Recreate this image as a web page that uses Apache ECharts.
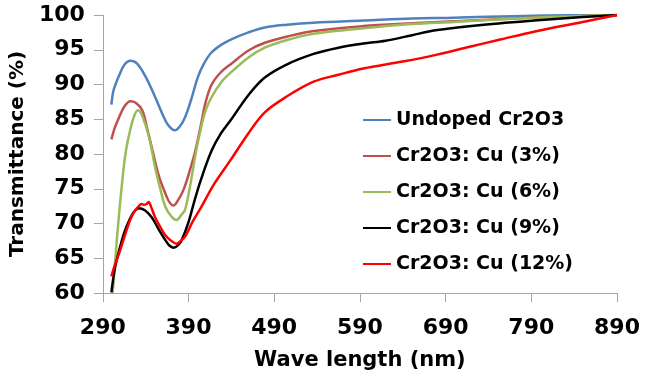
<!DOCTYPE html>
<html>
<head>
<meta charset="utf-8">
<script src="https://cdn.jsdelivr.net/npm/echarts@6/dist/echarts.min.js"></script>
<style>
    html, body { margin: 0; padding: 0; background: #fff; }
    #chart { width: 652px; height: 379px; }
</style>
</head>
<body>
<div id="chart"></div>
<script>
// wavelength (nm), transmittance (%)
var seriesNames = ['Undoped Cr2O3', 'Cr2O3: Cu (3%)', 'Cr2O3: Cu (6%)', 'Cr2O3: Cu (9%)', 'Cr2O3: Cu (12%)'];
var seriesColors = ['#4f81bd', '#c0504d', '#9bbb59', '#000000', '#ff0000'];

var undoped = [
    [300, 87.1], [302, 88.9], [305, 90.1], [309, 91.3], [315, 92.8], [322, 93.4], [330, 93.0],
    [340, 91.1], [350, 88.5], [359, 85.9], [366, 84.2], [374, 83.4], [380, 84.0], [386, 85.3],
    [393, 87.8], [401, 91.1], [408, 93.0], [416, 94.5], [428, 95.7], [440, 96.5], [460, 97.5],
    [479, 98.2], [505, 98.6], [536, 98.9], [594, 99.2], [651, 99.5], [700, 99.6], [790, 99.9], [890, 100]
];
var cu3 = [
    [300, 82.1], [304, 83.8], [309, 85.3], [315, 86.8], [322, 87.6], [328, 87.4], [336, 86.3],
    [342, 83.5], [348, 80.5], [355, 77.0], [363, 74.3], [368, 73.0], [372.5, 72.6], [378, 73.4],
    [384, 74.8], [390, 77.0], [398, 80.5], [405, 84.5], [410, 87.5], [417, 90.0], [428, 91.8],
    [440, 93.0], [460, 94.9], [479, 96.0], [505, 96.9], [536, 97.7], [594, 98.4], [651, 98.8],
    [700, 99.1], [790, 99.6], [890, 100]
];
var cu6 = [
    [301.5, 60.0], [307, 68.6], [313, 76.5], [317, 80.5], [322, 83.5], [327, 85.6], [331, 86.3],
    [336, 85.5], [344, 82.4], [351, 78.1], [357, 75.0], [363, 72.4], [370, 71.0], [376, 70.5],
    [382, 71.3], [386, 72.0], [392, 75.5], [399, 80.5], [405, 84.0], [410, 86.3], [417, 88.2],
    [428, 90.3], [440, 91.8], [460, 93.9], [479, 95.3], [505, 96.4], [536, 97.3], [594, 98.1],
    [651, 98.7], [700, 99.0], [790, 99.6], [890, 100]
];
var cu9 = [
    [300, 60.1], [304, 63.5], [309, 66.1], [315, 68.7], [321, 70.5], [326, 71.6], [332, 72.2],
    [339, 71.9], [347, 70.9], [355, 69.2], [363, 67.6], [368, 66.8], [373, 66.5], [378, 66.9],
    [382, 67.6], [390, 70.2], [397, 73.3], [405, 76.5], [417, 80.5], [428, 83.0], [440, 85.0],
    [460, 88.5], [479, 91.0], [505, 92.9], [536, 94.4], [565, 95.3], [594, 95.9], [620, 96.3],
    [651, 97.1], [678, 97.8], [726, 98.5], [793, 99.2], [850, 99.7], [890, 100]
];
var cu12 = [
    [300, 62.4], [304, 64.0], [309, 65.7], [315, 68.0], [321, 70.2], [326, 71.6], [332, 72.5],
    [335, 72.8], [338, 72.7], [341, 72.8], [343.6, 73.1], [346, 72.5], [351, 70.9], [357, 69.5],
    [363, 68.3], [369, 67.6], [376, 67.1], [381, 67.5], [386, 68.1], [395, 70.3], [405, 72.4],
    [420, 75.7], [440, 79.3], [460, 83.0], [479, 86.0], [505, 88.3], [536, 90.4], [565, 91.4],
    [594, 92.3], [640, 93.3], [680, 94.3], [717, 95.4], [755, 96.5], [793, 97.6], [850, 99.0], [890, 100]
];
var allData = [undoped, cu3, cu6, cu9, cu12];

var FONT = 'DejaVu Sans';
var chart = echarts.init(document.getElementById('chart'), null, { renderer: 'canvas' });

var option = {
    backgroundColor: '#ffffff',
    animation: false,
    color: seriesColors,
    grid: {
        left: 96,
        right: 35,
        top: 15,
        bottom: 86
    },
    legend: {
        orient: 'vertical',
        left: 358,
        top: 104,
        itemWidth: 28,
        itemHeight: 14,
        itemGap: 14,
        icon: 'path://M0,6 L28,6 L28,8 L0,8 Z',
        data: seriesNames,
        textStyle: {
            color: '#000',
            fontFamily: FONT,
            fontWeight: 'bold',
            fontSize: 19,
            lineHeight: 22
        }
    },
    xAxis: {
        type: 'value',
        min: 290,
        max: 890,
        interval: 100,
        name: 'Wave length (nm)',
        nameLocation: 'middle',
        nameGap: 57,
        nameTextStyle: {
            color: '#000',
            fontFamily: FONT,
            fontWeight: 'bold',
            fontSize: 21
        },
        axisLine: { lineStyle: { color: '#a6a6a6', width: 1 } },
        axisTick: { show: true, length: 9, lineStyle: { color: '#a6a6a6' } },
        splitLine: { show: false },
        axisLabel: {
            margin: 24,
            color: '#000',
            fontFamily: FONT,
            fontWeight: 'bold',
            fontSize: 22
        }
    },
    yAxis: {
        type: 'value',
        min: 60,
        max: 100,
        interval: 5,
        name: 'Transmittance (%)',
        nameLocation: 'middle',
        nameRotate: 90,
        nameGap: 55,
        nameTextStyle: {
            color: '#000',
            fontFamily: FONT,
            fontWeight: 'bold',
            fontSize: 20
        },
        axisLine: { show: true, lineStyle: { color: '#a6a6a6', width: 1 } },
        axisTick: { show: true, length: 9, lineStyle: { color: '#a6a6a6' } },
        splitLine: { show: false },
        axisLabel: {
            margin: 18,
            color: '#000',
            fontFamily: FONT,
            fontWeight: 'bold',
            fontSize: 22
        }
    },
    series: seriesNames.map(function (name, i) {
        return {
            name: name,
            type: 'line',
            data: allData[i],
            showSymbol: false,
            symbol: 'none',
            smooth: 0.35,
            lineStyle: {
                color: seriesColors[i],
                width: 2.5
            },
            itemStyle: { color: seriesColors[i] }
        };
    })
};

chart.setOption(option);
</script>
</body>
</html>
